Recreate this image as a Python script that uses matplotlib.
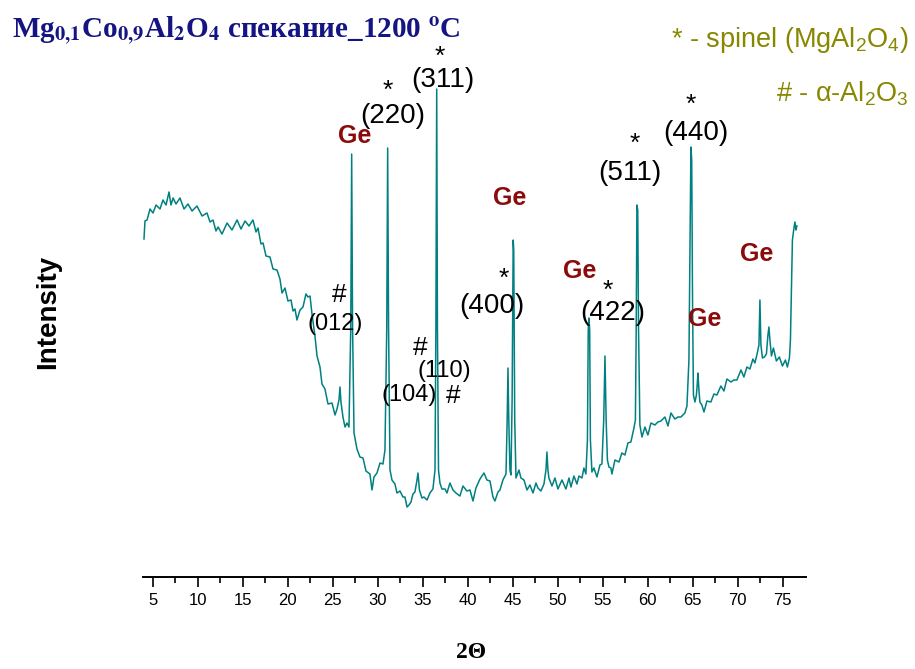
import matplotlib.pyplot as plt
from matplotlib.ticker import MultipleLocator

plt.rcParams['font.family'] = 'Liberation Sans'
plt.rcParams['mathtext.fontset'] = 'custom'
plt.rcParams['mathtext.rm'] = 'Liberation Sans'
plt.rcParams['mathtext.it'] = 'Liberation Sans'
plt.rcParams['mathtext.bf'] = 'Liberation Sans:bold'

# --- XRD scan (2Theta, intensity a.u.) ---
two_theta = [
    4.03, 4.14, 4.37, 4.70, 5.03, 5.37, 5.81, 6.14, 6.48, 6.81,
    7.03, 7.26, 7.59, 8.03, 8.48, 8.92, 9.37, 9.92, 10.48, 11.03,
    11.37, 11.70, 12.03, 12.26, 12.70, 13.26, 13.81, 14.37, 14.81, 15.26,
    15.70, 16.14, 16.48, 16.70, 17.03, 17.26, 17.59, 18.03, 18.37, 18.81,
    19.14, 19.37, 19.70, 20.03, 20.37, 20.59, 20.81, 21.03, 21.37, 21.70,
    22.03, 22.26, 22.48, 22.70, 23.03, 23.26, 23.59, 23.81, 24.14, 24.48,
    24.92, 25.26, 25.48, 25.70, 25.81, 25.92, 26.14, 26.37, 26.59, 26.81,
    27.01, 27.11, 27.21, 27.37, 27.70, 28.03, 28.37, 28.70, 29.14, 29.37,
    29.59, 29.92, 30.26, 30.59, 30.81, 31.01, 31.11, 31.21, 31.37, 31.59,
    31.92, 32.14, 32.48, 32.81, 33.03, 33.26, 33.48, 33.70, 33.92, 34.14,
    34.37, 34.48, 34.64, 34.92, 35.14, 35.48, 35.81, 36.14, 36.37, 36.47,
    36.56, 36.64, 36.76, 36.92, 37.14, 37.48, 37.70, 38.03, 38.37, 38.70,
    39.14, 39.48, 39.92, 40.26, 40.59, 40.92, 41.37, 41.81, 42.14, 42.48,
    42.81, 43.03, 43.37, 43.59, 43.92, 44.26, 44.39, 44.48, 44.57, 44.70,
    44.81, 44.94, 45.06, 45.12, 45.23, 45.37, 45.70, 45.92, 46.26, 46.59,
    46.92, 47.26, 47.59, 47.81, 48.14, 48.48, 48.70, 48.81, 48.92, 49.03,
    49.37, 49.70, 50.03, 50.48, 50.92, 51.26, 51.48, 51.81, 52.14, 52.37,
    52.70, 52.92, 53.14, 53.31, 53.40, 53.48, 53.56, 53.64, 53.81, 54.03,
    54.37, 54.70, 54.92, 55.12, 55.26, 55.39, 55.53, 55.70, 55.92, 56.03,
    56.37, 56.81, 57.14, 57.48, 57.81, 58.14, 58.48, 58.64, 58.73, 58.81,
    58.90, 58.99, 59.14, 59.37, 59.70, 60.03, 60.37, 60.81, 61.14, 61.48,
    61.92, 62.26, 62.59, 63.03, 63.37, 63.70, 64.14, 64.37, 64.59, 64.70,
    64.81, 64.90, 64.99, 65.09, 65.26, 65.42, 65.51, 65.59, 65.70, 65.81,
    66.03, 66.26, 66.59, 67.03, 67.37, 67.70, 68.14, 68.48, 68.81, 69.26,
    69.59, 69.92, 70.37, 70.70, 71.03, 71.37, 71.70, 71.92, 72.14, 72.37,
    72.48, 72.59, 72.76, 72.98, 73.20, 73.37, 73.48, 73.59, 73.76, 73.98,
    74.31, 74.64, 74.98, 75.31, 75.53, 75.76, 75.87, 75.98, 76.09, 76.26,
    76.37, 76.48, 76.59,
]
intensity = [
    338, 356, 357, 368, 364, 372, 368, 377, 372, 385,
    372, 379, 373, 379, 368, 373, 366, 371, 361, 364,
    355, 357, 346, 350, 343, 354, 347, 357, 348, 356,
    351, 357, 345, 349, 333, 334, 321, 320, 308, 307,
    298, 284, 289, 276, 277, 266, 268, 257, 267, 270,
    283, 280, 281, 263, 241, 221, 210, 193, 188, 173,
    174, 162, 168, 177, 190, 175, 160, 150, 154, 150,
    250, 423, 250, 144, 128, 120, 119, 106, 103, 87,
    100, 104, 114, 113, 127, 250, 429, 250, 107, 97,
    93, 84, 86, 80, 80, 70, 72, 75, 83, 85,
    97, 104, 87, 79, 80, 77, 84, 88, 107, 250,
    488, 250, 107, 94, 88, 88, 84, 94, 87, 84,
    81, 91, 86, 87, 76, 89, 98, 104, 97, 96,
    80, 76, 85, 87, 97, 103, 157, 209, 157, 107,
    102, 177, 337, 327, 157, 99, 107, 99, 97, 87,
    92, 84, 94, 89, 86, 93, 107, 125, 107, 99,
    91, 99, 88, 97, 88, 99, 90, 101, 93, 101,
    99, 109, 103, 137, 247, 259, 247, 137, 105, 109,
    100, 112, 113, 157, 221, 157, 117, 110, 109, 103,
    117, 115, 124, 122, 134, 135, 149, 157, 247, 372,
    367, 247, 152, 140, 150, 142, 154, 152, 155, 156,
    160, 151, 164, 158, 160, 160, 164, 171, 217, 327,
    430, 417, 277, 182, 175, 182, 192, 204, 187, 175,
    172, 165, 176, 175, 183, 182, 191, 186, 198, 195,
    197, 197, 207, 200, 210, 208, 218, 214, 222, 232,
    277, 232, 219, 220, 223, 242, 250, 237, 221, 229,
    216, 220, 211, 217, 210, 219, 237, 287, 337, 349,
    355, 347, 351,
]

# --- peak labels ---
spinel_hkl = ['(220)', '(311)', '(400)', '(422)', '(511)', '(440)']
spinel_x = [31.70, 37.20, 42.70, 56.09, 57.98, 65.31]
spinel_y = [454, 490, 264, 257, 397, 437]
star_x = [31.14, 36.92, 44.03, 55.59, 58.59, 64.81]
star_y = [479, 513, 291, 279, 426, 465]

corundum_hkl = ['(012)', '(104)', '(110)']
corundum_x = [25.31, 33.53, 37.42]
corundum_y = [247, 176, 200]
hash_x = [25.70, 38.42, 34.76]
hash_y = [275, 174, 222]

ge_x = [27.48, 44.70, 52.48, 66.37, 72.14]
ge_y = [434, 372, 299, 251, 316]

W, H = 915, 669
fig = plt.figure(figsize=(W / 100, H / 100), dpi=100)
ax = fig.add_axes([143 / W, 1 - 577 / H, (806 - 143) / W, (577 - 40) / H])

ax.plot(two_theta, intensity, color='#008080', lw=1.1)
ax.set_xlim(3.92, 77.6)
ax.set_ylim(0, 537)

for s in ['left', 'right', 'top']:
    ax.spines[s].set_visible(False)
ax.spines['bottom'].set_linewidth(1.4)
ax.set_yticks([])
ax.xaxis.set_major_locator(MultipleLocator(5))
ax.xaxis.set_minor_locator(MultipleLocator(2.5))
ax.set_xticks([t for t in range(5, 80, 5)])
ax.set_xticks([t + 2.5 for t in range(5, 75, 5)], minor=True)
ax.tick_params(axis='x', which='major', direction='out', length=7.5, width=1.2,
               labelsize=12, pad=4)
ax.tick_params(axis='x', which='minor', direction='out', length=4, width=1.2)

for t, x, y in zip(spinel_hkl, spinel_x, spinel_y):
    ax.text(x, y, t, ha='center', va='baseline', fontsize=20, color='black')
for x, y in zip(star_x, star_y):
    ax.text(x, y, '*', ha='center', va='baseline', fontsize=19, color='black')
for t, x, y in zip(corundum_hkl, corundum_x, corundum_y):
    ax.text(x, y, t, ha='center', va='baseline', fontsize=17, color='black')
for x, y in zip(hash_x, hash_y):
    ax.text(x, y, '#', ha='center', va='baseline', fontsize=19, color='black')
for x, y in zip(ge_x, ge_y):
    ax.text(x, y, 'Ge', ha='center', va='baseline', fontsize=18,
            fontweight='bold', color='#8B0A0A')

# title
fig.text(12 / W, 1 - 37 / H,
         r'Mg$_{\mathbf{0{,}1}}$Co$_{\mathbf{0{,}9}}$Al$_{\mathbf{2}}$O$_{\mathbf{4}}$'
         r' спекание_1200 $^{\mathbf{o}}$C',
         fontfamily='Liberation Serif', fontweight='bold', fontsize=21,
         color='#141482', ha='left', va='baseline', math_fontfamily='stix')

# phase key
olive = '#878700'
fig.text(909 / W, 1 - 47 / H, r'* - spinel (MgAl$_2$O$_4$)', ha='right',
         va='baseline', fontsize=19.5, color=olive)
fig.text(909 / W, 1 - 101 / H, r'# - α-Al$_2$O$_3$', ha='right',
         va='baseline', fontsize=19.5, color=olive)

fig.text(48 / W, 1 - 312 / H, 'Intensity', rotation=90, ha='center',
         va='center', fontsize=20, fontweight='bold')
fig.text(471 / W, 1 - 653 / H, '2Θ', ha='center', va='center',
         fontfamily='Liberation Serif', fontweight='bold', fontsize=17)

fig.savefig('out.png', dpi=100)
